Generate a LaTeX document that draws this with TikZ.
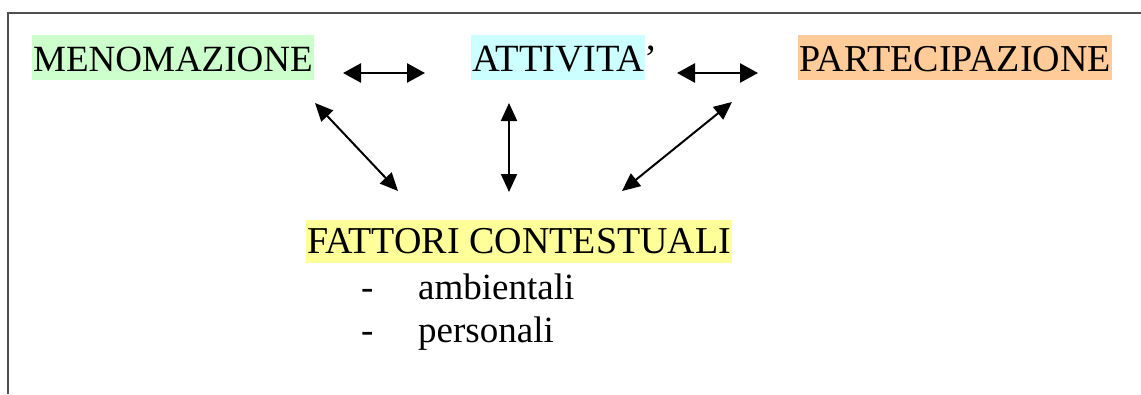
\documentclass[tikz,border=0pt]{standalone}
\usepackage{fontspec}
\setmainfont{Liberation Serif}
\usetikzlibrary{arrows.meta}
\definecolor{hlgreen}{HTML}{CCFFCC}
\definecolor{hlcyan}{HTML}{CCFFFF}
\definecolor{hlorange}{HTML}{FFCC99}
\definecolor{hlyellow}{HTML}{FFFF99}
\definecolor{framegray}{HTML}{505050}
\begin{document}
\begin{tikzpicture}[x=1pt,y=-1pt,
  hlbox/.style={anchor=base west,inner xsep=1pt,inner ysep=0pt,text height=36pt,text depth=9pt,
    font=\fontsize{37}{43}\selectfont,text=black},
  plain/.style={anchor=base west,inner sep=0pt,font=\fontsize{37}{43}\selectfont,text=black},
  dblarrow/.style={{Triangle[length=18pt,width=19pt]}-{Triangle[length=18pt,width=19pt]},line width=2.6pt,black},
  diagarrow/.style={{Triangle[length=18pt,width=16pt]}-{Triangle[length=18pt,width=16pt]},line width=2pt,black}
]
\useasboundingbox (0,0) rectangle (1141,394);
\fill[white] (0,0) rectangle (1141,394);
% frame
\draw[framegray,line width=2pt] (8,394) -- (8,13) -- (1141,13);

% labels
\node[hlbox,fill=hlgreen] (men) at (32,71) {MENOMAZIONE};
\node[hlbox,fill=hlcyan,font=\fontsize{38.5}{43}\selectfont] (att) at (471,71) {ATTIVITA\rlap{’}};
\node[hlbox,fill=hlorange,font=\fontsize{38}{43}\selectfont] (par) at (798,71) {PARTECIPAZIONE};
\node[hlbox,fill=hlyellow,text height=33pt,text depth=10pt,font=\fontsize{38}{43}\selectfont] (fat) at (306,253) {FATTORI CONTESTUALI};
\node[plain] (d1) at (361,299) {-};
\node[plain] (amb) at (418,299) {ambientali};
\node[plain] (d2) at (361,342) {-};
\node[plain] (per) at (418,342) {personali};

% arrow ends
\coordinate (ma1) at (343,73);
\coordinate (ma2) at (425,73);
\coordinate (ap1) at (677,73);
\coordinate (ap2) at (758,73);
\coordinate (mf1) at (315,103);
\coordinate (mf2) at (398,191);
\coordinate (af1) at (509,103);
\coordinate (af2) at (509,192);
\coordinate (pf1) at (732,102);
\coordinate (pf2) at (622,191);

\draw[dblarrow] (ma1) -- (ma2);
\draw[dblarrow] (ap1) -- (ap2);
\draw[diagarrow] (mf1) -- (mf2);
\draw[diagarrow] (af1) -- (af2);
\draw[diagarrow] (pf1) -- (pf2);
\end{tikzpicture}
\end{document}
